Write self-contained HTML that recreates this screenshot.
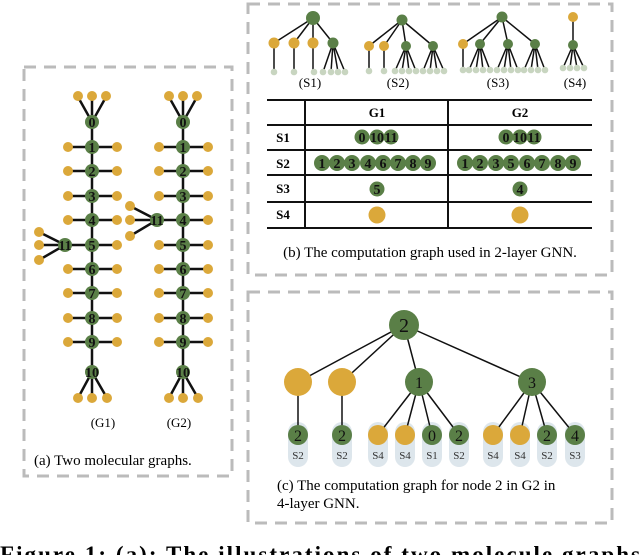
<!DOCTYPE html>
<html><head><meta charset="utf-8"><style>
html,body{margin:0;padding:0;background:#fff;width:640px;height:555px;overflow:hidden}
svg{display:block}
text{font-family:"Liberation Serif",serif}
.n{font-weight:bold;font-size:14px;text-anchor:middle;fill:#111}
</style></head><body>
<svg width="640" height="555" viewBox="0 0 640 555" xmlns="http://www.w3.org/2000/svg">
<g fill="none" stroke="#bbb" stroke-width="3" stroke-dasharray="12,8">
<rect x="24" y="67" width="208" height="409"/>
<rect x="248" y="4" width="364" height="271"/>
<rect x="248" y="292" width="364" height="231"/>
</g>

<!-- Panel a -->
<g stroke="#111" stroke-width="2.5" fill="none">
<line x1="92" y1="122" x2="92" y2="372"/><line x1="183" y1="122" x2="183" y2="372"/>
<path d="M78,97L92,122L106,97M92,97V122M78,398L92,372L107,398M92,398V372"/>
<path d="M169,97L183,122L197,97M183,97V122M169,398L183,372L198,398M183,398V372"/>
<path d="M68,147H117M68,171H117M68,196H117M68,220H117M65,245H117M68,269H117M68,293H117M68,318H117M68,342H117"/>
<path d="M159,147H208M159,171H208M159,196H208M157,220H208M159,245H208M159,269H208M159,293H208M159,318H208M159,342H208"/>
<path d="M39,232L65,245L39,260M39,245H65"/>
<path d="M130,206L157,220L130,236M130,220H157"/>
</g>
<g fill="#dba83a">
<circle cx="78" cy="96" r="5"/><circle cx="92" cy="96" r="5"/><circle cx="106" cy="96" r="5"/>
<circle cx="78" cy="398" r="5"/><circle cx="92" cy="398" r="5"/><circle cx="107" cy="398" r="5"/>
<circle cx="169" cy="96" r="5"/><circle cx="183" cy="96" r="5"/><circle cx="197" cy="96" r="5"/>
<circle cx="169" cy="398" r="5"/><circle cx="183" cy="398" r="5"/><circle cx="198" cy="398" r="5"/>
<circle cx="39" cy="232" r="5"/><circle cx="39" cy="245" r="5"/><circle cx="39" cy="260" r="5"/>
<circle cx="130" cy="206" r="5"/><circle cx="130" cy="220" r="5"/><circle cx="130" cy="236" r="5"/>
<circle cx="68" cy="147" r="5"/><circle cx="117" cy="147" r="5"/><circle cx="68" cy="171" r="5"/><circle cx="117" cy="171" r="5"/>
<circle cx="68" cy="196" r="5"/><circle cx="117" cy="196" r="5"/><circle cx="68" cy="220" r="5"/><circle cx="117" cy="220" r="5"/>
<circle cx="117" cy="245" r="5"/><circle cx="68" cy="269" r="5"/><circle cx="117" cy="269" r="5"/>
<circle cx="68" cy="293" r="5"/><circle cx="117" cy="293" r="5"/><circle cx="68" cy="318" r="5"/><circle cx="117" cy="318" r="5"/>
<circle cx="68" cy="342" r="5"/><circle cx="117" cy="342" r="5"/>
<circle cx="159" cy="147" r="5"/><circle cx="208" cy="147" r="5"/><circle cx="159" cy="171" r="5"/><circle cx="208" cy="171" r="5"/>
<circle cx="159" cy="196" r="5"/><circle cx="208" cy="196" r="5"/><circle cx="208" cy="220" r="5"/>
<circle cx="159" cy="245" r="5"/><circle cx="208" cy="245" r="5"/><circle cx="159" cy="269" r="5"/><circle cx="208" cy="269" r="5"/>
<circle cx="159" cy="293" r="5"/><circle cx="208" cy="293" r="5"/><circle cx="159" cy="318" r="5"/><circle cx="208" cy="318" r="5"/>
<circle cx="159" cy="342" r="5"/><circle cx="208" cy="342" r="5"/>
</g>
<g fill="#5a7f47">
<circle cx="92" cy="122" r="7"/><circle cx="92" cy="147" r="7"/><circle cx="92" cy="171" r="7"/><circle cx="92" cy="196" r="7"/>
<circle cx="92" cy="220" r="7"/><circle cx="92" cy="245" r="7"/><circle cx="92" cy="269" r="7"/><circle cx="92" cy="293" r="7"/>
<circle cx="92" cy="318" r="7"/><circle cx="92" cy="342" r="7"/><circle cx="92" cy="372" r="7"/><circle cx="65" cy="245" r="7"/>
<circle cx="183" cy="122" r="7"/><circle cx="183" cy="147" r="7"/><circle cx="183" cy="171" r="7"/><circle cx="183" cy="196" r="7"/>
<circle cx="183" cy="220" r="7"/><circle cx="183" cy="245" r="7"/><circle cx="183" cy="269" r="7"/><circle cx="183" cy="293" r="7"/>
<circle cx="183" cy="318" r="7"/><circle cx="183" cy="342" r="7"/><circle cx="183" cy="372" r="7"/><circle cx="157" cy="220" r="7"/>
</g>
<g>
<text x="92" y="127" class="n">0</text><text x="92" y="152" class="n">1</text><text x="92" y="176" class="n">2</text><text x="92" y="201" class="n">3</text>
<text x="92" y="225" class="n">4</text><text x="92" y="250" class="n">5</text><text x="92" y="274" class="n">6</text><text x="92" y="298" class="n">7</text>
<text x="92" y="323" class="n">8</text><text x="92" y="347" class="n">9</text><text x="92" y="377" class="n">10</text><text x="65" y="250" class="n">11</text>
<text x="183" y="127" class="n">0</text><text x="183" y="152" class="n">1</text><text x="183" y="176" class="n">2</text><text x="183" y="201" class="n">3</text>
<text x="183" y="225" class="n">4</text><text x="183" y="250" class="n">5</text><text x="183" y="274" class="n">6</text><text x="183" y="298" class="n">7</text>
<text x="183" y="323" class="n">8</text><text x="183" y="347" class="n">9</text><text x="183" y="377" class="n">10</text><text x="157" y="225" class="n">11</text>
</g>
<text x="103" y="427" font-size="13" text-anchor="middle">(G1)</text>
<text x="179" y="427" font-size="13" text-anchor="middle">(G2)</text>
<text x="34" y="465" font-size="15">(a) Two molecular graphs.</text>

<!-- Panel b trees -->
<g stroke="#111" stroke-width="1.5" fill="none">
<path d="M313,18L274,43M313,18L294,43M313,18V43M313,18L333,43M274,43V72M294,43V72M313,43V72M333,43L323,72M333,43L331,72M333,43L338,72M333,43L345,72"/>
<path d="M402,20L369,46M402,20L384,46M402,20L406,46M402,20L433,46M369,46V71M384,46V71M406,46L395,71M406,46L402,71M406,46L409,71M406,46L416,71M433,46L423,71M433,46L430,71M433,46L437,71M433,46L444,71"/>
<path d="M502,17L463,44M502,17L480,44M502,17L508,44M502,17L535,44M463,44V70M480,44L469,70M480,44L476,70M480,44L483,70M480,44L490,70M508,44L497,70M508,44L504,70M508,44L511,70M508,44L518,70M535,44L524,70M535,44L531,70M535,44L538,70M535,44L545,70"/>
<path d="M573,17V45M573,45L563,68M573,45L570,68M573,45L577,68M573,45L584,68"/>
</g>
<g fill="#c8d5c0">
<circle cx="274" cy="72" r="3.3"/><circle cx="294" cy="72" r="3.3"/><circle cx="314" cy="72" r="3.3"/><circle cx="323" cy="72" r="3.3"/><circle cx="331" cy="72" r="3.3"/><circle cx="338" cy="72" r="3.3"/><circle cx="345" cy="72" r="3.3"/>
<circle cx="369" cy="71" r="3.3"/><circle cx="384" cy="71" r="3.3"/><circle cx="395" cy="71" r="3.3"/><circle cx="402" cy="71" r="3.3"/><circle cx="409" cy="71" r="3.3"/><circle cx="416" cy="71" r="3.3"/><circle cx="423" cy="71" r="3.3"/><circle cx="430" cy="71" r="3.3"/><circle cx="437" cy="71" r="3.3"/><circle cx="444" cy="71" r="3.3"/>
<circle cx="463" cy="70" r="3.3"/><circle cx="469" cy="70" r="3.3"/><circle cx="476" cy="70" r="3.3"/><circle cx="483" cy="70" r="3.3"/><circle cx="490" cy="70" r="3.3"/><circle cx="497" cy="70" r="3.3"/><circle cx="504" cy="70" r="3.3"/><circle cx="511" cy="70" r="3.3"/><circle cx="518" cy="70" r="3.3"/><circle cx="524" cy="70" r="3.3"/><circle cx="531" cy="70" r="3.3"/><circle cx="538" cy="70" r="3.3"/><circle cx="545" cy="70" r="3.3"/>
<circle cx="563" cy="68" r="3.3"/><circle cx="570" cy="68" r="3.3"/><circle cx="577" cy="68" r="3.3"/><circle cx="584" cy="68" r="3.3"/>
</g>
<g fill="#dba83a">
<circle cx="274" cy="43" r="5.5"/><circle cx="294" cy="43" r="5.5"/><circle cx="313" cy="43" r="5.5"/>
<circle cx="369" cy="46" r="5"/><circle cx="384" cy="46" r="5"/><circle cx="463" cy="44" r="5"/><circle cx="573" cy="17" r="5"/>
</g>
<g fill="#5a7f47">
<circle cx="313" cy="18" r="7"/><circle cx="333" cy="43" r="5.5"/>
<circle cx="402" cy="20" r="5.5"/><circle cx="406" cy="46" r="5"/><circle cx="433" cy="46" r="5"/>
<circle cx="502" cy="17" r="5.5"/><circle cx="480" cy="44" r="5"/><circle cx="508" cy="44" r="5"/><circle cx="535" cy="44" r="5"/>
<circle cx="573" cy="45" r="5"/>
</g>
<g font-size="13" text-anchor="middle">
<text x="310" y="87">(S1)</text><text x="398" y="87">(S2)</text><text x="498" y="87">(S3)</text><text x="575" y="87">(S4)</text>
</g>

<!-- table -->
<g stroke="#111" stroke-width="2" fill="none">
<path d="M267,100H592M267,125H592M267,150H592M267,175H592M267,202H592M267,228H592M305,100V228M448,100V228"/>
</g>
<g font-size="13" font-weight="bold" text-anchor="middle">
<text x="377" y="117">G1</text><text x="520" y="117">G2</text>
<text x="283" y="142">S1</text><text x="283" y="168">S2</text><text x="283" y="193">S3</text><text x="283" y="219">S4</text>
</g>
<g fill="#5a7f47">
<circle cx="362" cy="137" r="7.5"/><circle cx="377" cy="137" r="7.5"/><circle cx="391" cy="137" r="7.5"/>
<circle cx="506" cy="137" r="7.5"/><circle cx="520" cy="137" r="7.5"/><circle cx="534" cy="137" r="7.5"/>
<circle cx="322" cy="163" r="8"/><circle cx="337" cy="163" r="8"/><circle cx="352" cy="163" r="8"/><circle cx="368" cy="163" r="8"/><circle cx="383" cy="163" r="8"/><circle cx="398" cy="163" r="8"/><circle cx="413" cy="163" r="8"/><circle cx="428" cy="163" r="8"/>
<circle cx="465" cy="163" r="8"/><circle cx="480" cy="163" r="8"/><circle cx="496" cy="163" r="8"/><circle cx="511" cy="163" r="8"/><circle cx="527" cy="163" r="8"/><circle cx="542" cy="163" r="8"/><circle cx="558" cy="163" r="8"/><circle cx="573" cy="163" r="8"/>
<circle cx="377" cy="189" r="7.5"/><circle cx="520" cy="189" r="7.5"/>
</g>
<circle cx="377" cy="215" r="8.5" fill="#dba83a"/><circle cx="520" cy="215" r="8.5" fill="#dba83a"/>
<g>
<text x="362" y="142" class="n">0</text><text x="377" y="142" class="n">10</text><text x="391" y="142" class="n">11</text>
<text x="506" y="142" class="n">0</text><text x="520" y="142" class="n">10</text><text x="534" y="142" class="n">11</text>
<text x="322" y="168" class="n">1</text><text x="337" y="168" class="n">2</text><text x="352" y="168" class="n">3</text><text x="368" y="168" class="n">4</text><text x="383" y="168" class="n">6</text><text x="398" y="168" class="n">7</text><text x="413" y="168" class="n">8</text><text x="428" y="168" class="n">9</text>
<text x="465" y="168" class="n">1</text><text x="480" y="168" class="n">2</text><text x="496" y="168" class="n">3</text><text x="511" y="168" class="n">5</text><text x="527" y="168" class="n">6</text><text x="542" y="168" class="n">7</text><text x="558" y="168" class="n">8</text><text x="573" y="168" class="n">9</text>
<text x="377" y="194" class="n">5</text><text x="520" y="194" class="n">4</text>
</g>
<text x="430" y="257" font-size="15" text-anchor="middle">(b) The computation graph used in 2-layer GNN.</text>

<!-- Panel c -->
<g fill="#dde6ec">
<rect x="288" y="422" width="20" height="45" rx="10"/><rect x="332" y="422" width="20" height="45" rx="10"/>
<rect x="368" y="422" width="20" height="45" rx="10"/><rect x="395" y="422" width="20" height="45" rx="10"/>
<rect x="422" y="422" width="20" height="45" rx="10"/><rect x="449" y="422" width="20" height="45" rx="10"/>
<rect x="483" y="422" width="20" height="45" rx="10"/><rect x="510" y="422" width="20" height="45" rx="10"/>
<rect x="537" y="422" width="20" height="45" rx="10"/><rect x="565" y="422" width="20" height="45" rx="10"/>
</g>
<g stroke="#111" stroke-width="1.5" fill="none">
<path d="M404,325L298,382M404,325L342,382M404,325L419,382M404,325L532,382M298,382V435M342,382V435M419,382L378,435M419,382L405,435M419,382L432,435M419,382L459,435M532,382L493,435M532,382L520,435M532,382L547,435M532,382L575,435"/>
</g>
<circle cx="404" cy="325" r="15" fill="#5a7f47"/>
<circle cx="298" cy="382" r="14" fill="#dba83a"/><circle cx="342" cy="382" r="14" fill="#dba83a"/>
<circle cx="419" cy="382" r="14" fill="#5a7f47"/><circle cx="532" cy="382" r="14" fill="#5a7f47"/>
<g fill="#5a7f47"><circle cx="298" cy="435" r="10"/><circle cx="342" cy="435" r="10"/><circle cx="432" cy="435" r="10"/><circle cx="459" cy="435" r="10"/><circle cx="547" cy="435" r="10"/><circle cx="575" cy="435" r="10"/></g>
<g fill="#dba83a"><circle cx="378" cy="435" r="10"/><circle cx="405" cy="435" r="10"/><circle cx="493" cy="435" r="10"/><circle cx="520" cy="435" r="10"/></g>
<g text-anchor="middle" fill="#111">
<text x="404" y="332" font-size="20">2</text><text x="419" y="388" font-size="16">1</text><text x="532" y="388" font-size="16">3</text>
<text x="298" y="441" font-size="16">2</text><text x="342" y="441" font-size="16">2</text><text x="432" y="441" font-size="16">0</text><text x="459" y="441" font-size="16">2</text><text x="547" y="441" font-size="16">2</text><text x="575" y="441" font-size="16">4</text>
</g>
<g font-size="11" text-anchor="middle" fill="#333">
<text x="298" y="459">S2</text><text x="342" y="459">S2</text><text x="378" y="459">S4</text><text x="405" y="459">S4</text><text x="432" y="459">S1</text><text x="459" y="459">S2</text><text x="493" y="459">S4</text><text x="520" y="459">S4</text><text x="547" y="459">S2</text><text x="575" y="459">S3</text>
</g>
<text x="277" y="490" font-size="15">(c) The computation graph for node 2 in G2 in</text>
<text x="277" y="508" font-size="15">4-layer GNN.</text>

<text x="0" y="562" font-size="23" font-weight="bold" textLength="640" lengthAdjust="spacing">Figure 1: (a): The illustrations of two molecule graphs</text>
</svg>
</body></html>
